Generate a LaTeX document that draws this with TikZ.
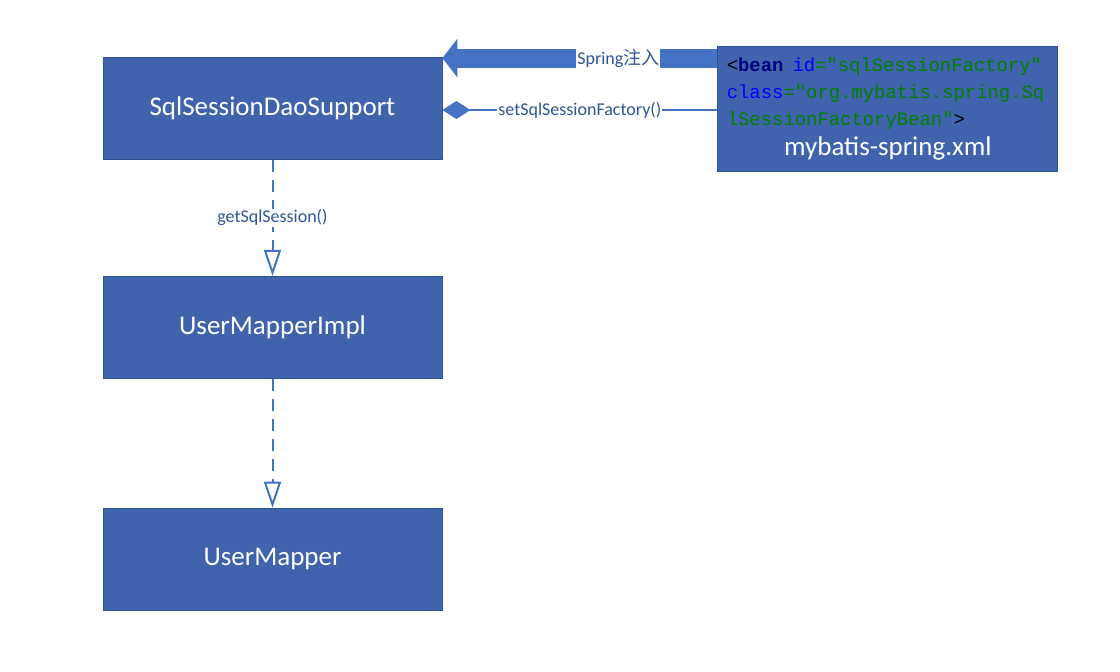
\documentclass[tikz,border=0pt]{standalone}
\usepackage{fontspec}
\setmainfont{Carlito}
\setmonofont{Liberation Mono}
\newfontfamily\cjk{Noto Sans CJK SC}
\usetikzlibrary{arrows.meta,positioning}
\definecolor{boxblue}{HTML}{3F64AD}
\definecolor{boxline}{HTML}{2F528F}
\definecolor{linkblue}{HTML}{4472C4}
\definecolor{labblue}{HTML}{2F5597}
\definecolor{xmlnavy}{HTML}{000080}
\definecolor{xmlblue}{HTML}{0000FF}
\definecolor{xmlgreen}{HTML}{008000}

\begin{document}
\begin{tikzpicture}[
  x=1pt, y=-1pt,
  font=\fontsize{27}{32}\selectfont,
  cls/.style={draw=boxline, line width=0.8pt, fill=boxblue, text=white, minimum width=339pt, minimum height=102pt, inner sep=0pt},
  lbl/.style={fill=white, text=labblue, font=\fontsize{18}{20}\selectfont, inner sep=1pt},
  realize/.style={linkblue, line width=2pt, dash pattern=on 12pt off 8pt, -{Triangle[open, width=17pt, length=26pt, fill=white]}},
  assoc/.style={linkblue, line width=2pt, -{Diamond[width=18pt, length=28pt]}},
  inject/.style={linkblue, line width=19pt, -{Triangle[width=38pt, length=15pt]}}
]
\useasboundingbox (0,0) rectangle (1120,672);
\node[cls] (dao) at (272.5,108.5) {SqlSessionDaoSupport};
\node[cls, below=116pt of dao] (mapimpl) {UserMapperImpl};
\node[cls, below=129pt of mapimpl] (mapper) {UserMapper};
\node[cls, minimum width=340pt, minimum height=125pt, inner xsep=9pt, text width=322pt, right=275pt of dao] (xml) {%
  {\ttfamily\fontsize{18.9}{27}\selectfont\color{black}<{\bfseries\color{xmlnavy}bean} {\color{xmlblue}id}{\color{xmlgreen}="sqlSessionFactory"}\\
  {\color{xmlblue}class}{\color{xmlgreen}="org.mybatis.spring.Sq}\\
  {\color{xmlgreen}lSessionFactoryBean"}>\par}
  {\centering\fontsize{27}{30}\selectfont mybatis-spring.xml\par}};
\coordinate (inj) at ([yshift=-12.5pt]xml.north west);
\draw[inject] (inj) -- (inj -| dao.east) node[lbl, pos=0.36, inner ysep=0.5pt] {Spring{\cjk 注入}};
\draw[assoc] ([yshift=-1.5pt]xml.west) -- ([yshift=-1.5pt]dao.east) node[lbl, midway] {setSqlSessionFactory()};
\draw[realize] (dao) -- (mapimpl) node[lbl, midway] {getSqlSession()};
\draw[realize] (mapimpl) -- (mapper);
\end{tikzpicture}
\end{document}
